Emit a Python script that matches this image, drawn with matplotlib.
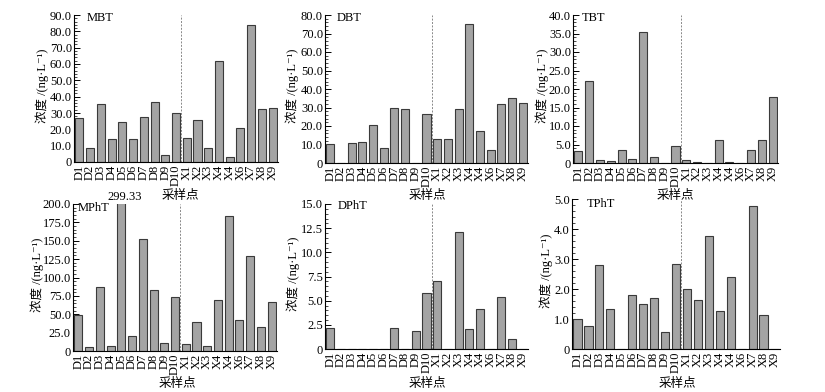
import matplotlib
matplotlib.use("Agg")
import matplotlib.pyplot as plt
from matplotlib.ticker import AutoMinorLocator
import numpy as np

plt.rcParams['font.family'] = ['Liberation Serif', 'Noto Sans CJK SC', 'DejaVu Serif']

sites = ["D1", "D2", "D3", "D4", "D5", "D6", "D7", "D8", "D9", "D10",
         "X1", "X2", "X3", "X4", "X4", "X6", "X7", "X8", "X9"]

mbt = [26.9, 8.6, 35.8, 13.8, 24.6, 13.8, 27.3, 36.5, 4.5, 29.9,
       14.5, 25.7, 8.6, 61.7, 2.9, 20.6, 83.7, 32.4, 33.2]
dbt = [10.2, 0, 10.8, 11.3, 20.5, 7.9, 29.5, 29.0, 0, 26.5,
       13.0, 13.2, 29.4, 75.2, 17.1, 7.0, 31.8, 35.1, 32.7]
tbt = [3.3, 22.2, 0.8, 0.5, 3.5, 1.2, 35.5, 1.7, 0, 4.7,
       0.8, 0.4, 0, 6.3, 0.4, 0, 3.5, 6.2, 17.9]
mpht = [49, 5, 87, 7, 299.33, 21, 153, 83, 11, 73,
        9, 39, 7, 70, 184, 42, 129, 32, 67]
dpht = [2.2, 0, 0, 0, 0, 0, 2.2, 0, 1.9, 5.8,
        7.0, 0, 12.1, 2.1, 4.1, 0, 5.4, 1.0, 0]
tpht = [1.0, 0.78, 2.8, 1.35, 0, 1.8, 1.5, 1.7, 0.58, 2.85,
        2.0, 1.63, 3.78, 1.28, 2.4, 0, 4.78, 1.15, 0]

names = ["MBT", "DBT", "TBT", "MPhT", "DPhT", "TPhT"]
series = [mbt, dbt, tbt, mpht, dpht, tpht]
ymax = [90, 80, 40, 200, 15, 5]
ystep = [10, 10, 5, 25, 2.5, 1]

W, H = 825, 392
# pixel boxes: left, right, top, bottom
boxes = [(74, 278, 15, 162), (325, 528, 15, 163), (573, 778, 15, 163),
         (73, 277, 204, 351), (325, 528, 204, 349), (572, 780, 199, 349)]
ylab_x = [42, 292, 542, 37, 293, 546]
xlab_pos = [(180, 196), (427, 196), (675, 196), (177, 384), (427, 384), (677, 384)]
title_pos = [(87, 18), (337, 18), (582, 18), (78, 208), (338, 206), (587, 204)]

fig = plt.figure(figsize=(W / 100, H / 100), dpi=100)
fs = 9
for i, (name, vals) in enumerate(zip(names, series)):
    l, r, t, b = boxes[i]
    ax = fig.add_axes([l / W, 1 - b / H, (r - l) / W, (b - t) / H])
    x = np.arange(len(sites))
    ax.bar(x, vals, width=0.75, color="#a4a4a4", edgecolor="#3a3a3a", linewidth=0.8, zorder=2)
    ax.set_xlim(-0.5, len(sites) - 0.5)
    ax.set_ylim(0, ymax[i])
    ax.axvline(9.5, color="#888888", linestyle=(0, (2, 1.5)), linewidth=0.7, zorder=1)
    ax.spines['top'].set_visible(False)
    ax.spines['right'].set_visible(False)
    ax.spines['left'].set_linewidth(0.8)
    ax.spines['bottom'].set_linewidth(0.8)
    ax.set_xticks(x)
    ax.set_xticklabels(sites, rotation=90, fontsize=fs)
    ax.tick_params(axis='x', length=0, pad=2)
    yt = np.arange(0, ymax[i] + 1e-9, ystep[i])
    ax.set_yticks(yt)
    ax.set_yticklabels(["0" if v == 0 else "%.1f" % v for v in yt], fontsize=fs)
    ax.yaxis.set_minor_locator(AutoMinorLocator(5))
    ax.tick_params(axis='y', which='major', direction='in', length=4, width=0.7, pad=1.5)
    ax.tick_params(axis='y', which='minor', direction='in', length=2, width=0.5)
    tx, ty = title_pos[i]
    fig.text(tx / W, 1 - ty / H, name, ha='left', va='center', fontsize=fs)
    xx, xy = xlab_pos[i]
    fig.text(xx / W, 1 - xy / H, "采样点", ha='center', va='center', fontsize=fs)
    fig.text(ylab_x[i] / W, 1 - ((t + b) / 2 - 3) / H, "浓度 /(ng·L⁻¹)", rotation=90,
             ha='center', va='center', fontsize=fs)
    if name == "MPhT":
        ax.annotate("299.33", xy=(4, ymax[i]), xytext=(2.5, 1), textcoords='offset points',
                    ha='center', va='bottom', fontsize=fs, annotation_clip=False)

fig.savefig("out.png", dpi=100)
